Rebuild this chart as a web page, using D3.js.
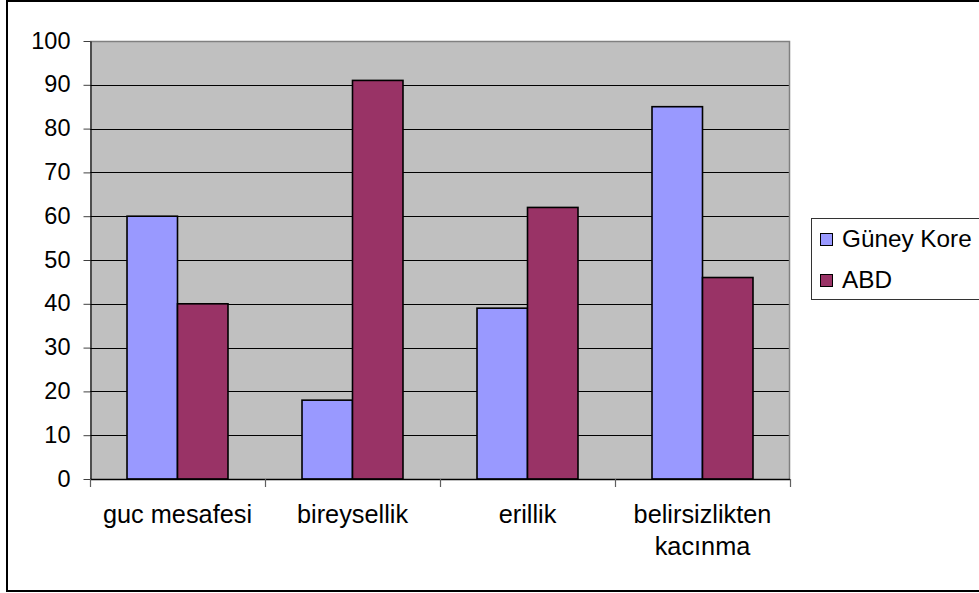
<!DOCTYPE html>
<html>
<head>
<meta charset="utf-8">
<script src="https://cdn.jsdelivr.net/npm/d3@7"></script>
<style>
  html, body { margin: 0; padding: 0; background: #fff; }
  svg { display: block; }
  text { font-family: "Liberation Sans", Arial, sans-serif; fill: #000; }
</style>
</head>
<body>
<svg id="chart" width="979" height="593"></svg>
<script>
// Hofstede dimension scores
const categories = ["guc mesafesi", "bireysellik", "erillik", "belirsizlikten kacınma"];
const categoryLabels = [["guc mesafesi"], ["bireysellik"], ["erillik"], ["belirsizlikten", "kacınma"]];
const seriesNames = ["Güney Kore", "ABD"];
const guneyKore = [60, 18, 39, 85];
const abd = [40, 91, 62, 46];
const yTicks = [0, 10, 20, 30, 40, 50, 60, 70, 80, 90, 100];
const seriesColors = ["#9999FF", "#993366"];

const seriesValues = [guneyKore, abd];
const rows = categories.map((c, i) => ({
  category: c,
  values: seriesNames.map((s, j) => ({ series: s, value: seriesValues[j][i] }))
}));

const svg = d3.select("#chart");

// chart border
svg.append("rect")
  .attr("x", 7).attr("y", 1)
  .attr("width", 990).attr("height", 590)
  .attr("fill", "#fff").attr("stroke", "#000").attr("stroke-width", 2);

const plot = { left: 90, right: 790, top: 41, bottom: 479 };

const x = d3.scaleBand().domain(categories).range([plot.left, plot.right]).padding(0);
const xs = d3.scaleBand().domain(seriesNames).range([0, x.bandwidth()])
  .paddingInner(0).paddingOuter(0.733);
const y = d3.scaleLinear().domain([0, 100]).range([plot.bottom, plot.top]);
const color = d3.scaleOrdinal().domain(seriesNames).range(seriesColors);

// plot area background
svg.append("rect")
  .attr("x", plot.left).attr("y", plot.top)
  .attr("width", plot.right - plot.left).attr("height", plot.bottom - plot.top)
  .attr("fill", "#C0C0C0");

// horizontal gridlines
svg.append("g")
  .selectAll("line")
  .data(yTicks.filter(t => t > 0 && t < 100))
  .join("line")
  .attr("x1", plot.left).attr("x2", plot.right)
  .attr("y1", d => Math.round(y(d)) + 0.5).attr("y2", d => Math.round(y(d)) + 0.5)
  .attr("stroke", "#000").attr("stroke-width", 1);

// plot area frame (top and right)
svg.append("path")
  .attr("d", `M${plot.left},${plot.top + 0.5}H${plot.right - 0.5}V${plot.bottom}`)
  .attr("fill", "none").attr("stroke", "#808080").attr("stroke-width", 1.5);

// bars
const groups = svg.append("g")
  .selectAll("g")
  .data(rows)
  .join("g")
  .attr("transform", d => `translate(${x(d.category)},0)`);

groups.selectAll("rect")
  .data(d => d.values)
  .join("rect")
  .attr("x", d => xs(d.series))
  .attr("y", d => y(d.value))
  .attr("width", xs.bandwidth())
  .attr("height", d => y(0) - y(d.value))
  .attr("fill", d => color(d.series))
  .attr("stroke", "#000")
  .attr("stroke-width", 1.6);

// y axis
const yAxis = d3.axisLeft(y).tickValues(yTicks).tickSize(7).tickPadding(13).tickSizeOuter(0);
const gy = svg.append("g")
  .attr("transform", `translate(${plot.left + 0.5},0)`)
  .call(yAxis);
gy.select(".domain").attr("stroke", "#000").attr("stroke-width", 1.2);
gy.selectAll(".tick line").attr("stroke", "#404040");
gy.selectAll(".tick text")
  .attr("font-size", 23.5)
  .attr("font-family", "Liberation Sans, Arial, sans-serif")
  .attr("dy", "0.3em");

// x axis
const xTickPositions = [plot.left, ...categories.map(c => x(c) + x.bandwidth())];
const gx = svg.append("g");
gx.append("line")
  .attr("x1", plot.left).attr("x2", plot.right)
  .attr("y1", plot.bottom + 0.5).attr("y2", plot.bottom + 0.5)
  .attr("stroke", "#000").attr("stroke-width", 1.6);
gx.selectAll("line.tick")
  .data(xTickPositions)
  .join("line")
  .attr("class", "tick")
  .attr("x1", d => d + 0.5).attr("x2", d => d + 0.5)
  .attr("y1", plot.bottom).attr("y2", plot.bottom + 8)
  .attr("stroke", "#606060").attr("stroke-width", 1.2);

const xLabels = gx.selectAll("text")
  .data(rows)
  .join("text")
  .attr("x", d => x(d.category) + x.bandwidth() / 2)
  .attr("y", 523)
  .attr("text-anchor", "middle")
  .attr("font-size", 25.3);
xLabels.selectAll("tspan")
  .data((d, i) => categoryLabels[i])
  .join("tspan")
  .attr("x", function () { return d3.select(this.parentNode).attr("x"); })
  .attr("dy", (d, i) => i === 0 ? 0 : 32)
  .text(d => d);

// legend
const legend = svg.append("g");
legend.append("rect")
  .attr("x", 811.5).attr("y", 218.5)
  .attr("width", 200).attr("height", 81)
  .attr("fill", "#fff").attr("stroke", "#333").attr("stroke-width", 1);
const items = legend.selectAll("g.item")
  .data(seriesNames)
  .join("g")
  .attr("class", "item")
  .attr("transform", (d, i) => `translate(0,${i * 41})`);
items.append("rect")
  .attr("x", 820.5).attr("y", 233.5)
  .attr("width", 12).attr("height", 12)
  .attr("fill", d => color(d))
  .attr("stroke", "#000").attr("stroke-width", 1);
items.append("text")
  .attr("x", 842).attr("y", 247)
  .attr("font-size", 24.3)
  .text(d => d);
</script>
</body>
</html>
